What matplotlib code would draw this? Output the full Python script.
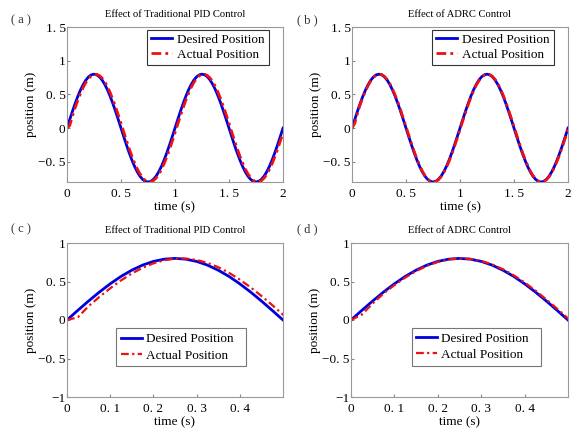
import matplotlib
matplotlib.use("Agg")
import matplotlib.pyplot as plt
import numpy as np

plt.rcParams['font.family'] = ['Liberation Serif', 'DejaVu Serif']

# time samples (s)
t = [0.000, 0.025, 0.050, 0.075, 0.100, 0.125, 0.150, 0.175, 0.200, 0.225,
     0.250, 0.275, 0.300, 0.325, 0.350, 0.375, 0.400, 0.425, 0.450, 0.475,
     0.500, 0.525, 0.550, 0.575, 0.600, 0.625, 0.650, 0.675, 0.700, 0.725,
     0.750, 0.775, 0.800, 0.825, 0.850, 0.875, 0.900, 0.925, 0.950, 0.975,
     1.000, 1.025, 1.050, 1.075, 1.100, 1.125, 1.150, 1.175, 1.200, 1.225,
     1.250, 1.275, 1.300, 1.325, 1.350, 1.375, 1.400, 1.425, 1.450, 1.475,
     1.500, 1.525, 1.550, 1.575, 1.600, 1.625, 1.650, 1.675, 1.700, 1.725,
     1.750, 1.775, 1.800, 1.825, 1.850, 1.875, 1.900, 1.925, 1.950, 1.975,
     2.000]

desired = [0.000, 0.125, 0.247, 0.363, 0.470, 0.566, 0.647, 0.713, 0.761, 0.790,
           0.800, 0.790, 0.761, 0.713, 0.647, 0.566, 0.470, 0.363, 0.247, 0.125,
           0.000, -0.125, -0.247, -0.363, -0.470, -0.566, -0.647, -0.713, -0.761, -0.790,
           -0.800, -0.790, -0.761, -0.713, -0.647, -0.566, -0.470, -0.363, -0.247, -0.125,
           0.000, 0.125, 0.247, 0.363, 0.470, 0.566, 0.647, 0.713, 0.761, 0.790,
           0.800, 0.790, 0.761, 0.713, 0.647, 0.566, 0.470, 0.363, 0.247, 0.125,
           0.000, -0.125, -0.247, -0.363, -0.470, -0.566, -0.647, -0.713, -0.761, -0.790,
           -0.800, -0.790, -0.761, -0.713, -0.647, -0.566, -0.470, -0.363, -0.247, -0.125,
           0.000]

actual_pid = [0.000, 0.035, 0.180, 0.300, 0.412, 0.514, 0.604, 0.678, 0.736, 0.776,
              0.797, 0.798, 0.780, 0.742, 0.686, 0.613, 0.525, 0.424, 0.313, 0.194,
              0.070, -0.056, -0.180, -0.300, -0.412, -0.514, -0.604, -0.678, -0.736, -0.776,
              -0.797, -0.798, -0.780, -0.742, -0.686, -0.613, -0.525, -0.424, -0.313, -0.194,
              -0.070, 0.056, 0.180, 0.300, 0.412, 0.514, 0.604, 0.678, 0.736, 0.776,
              0.797, 0.798, 0.780, 0.742, 0.686, 0.613, 0.525, 0.424, 0.313, 0.194,
              0.070, -0.056, -0.180, -0.300, -0.412, -0.514, -0.604, -0.678, -0.736, -0.776,
              -0.797, -0.798, -0.780, -0.742, -0.686, -0.613, -0.525, -0.424, -0.313, -0.194,
              -0.070]

actual_adrc = [0.000, 0.070, 0.215, 0.344, 0.453, 0.551, 0.635, 0.703, 0.754, 0.787,
               0.800, 0.793, 0.767, 0.722, 0.659, 0.580, 0.487, 0.382, 0.267, 0.146,
               0.021, -0.104, -0.227, -0.344, -0.453, -0.551, -0.635, -0.703, -0.754, -0.787,
               -0.800, -0.793, -0.767, -0.722, -0.659, -0.580, -0.487, -0.382, -0.267, -0.146,
               -0.021, 0.104, 0.227, 0.344, 0.453, 0.551, 0.635, 0.703, 0.754, 0.787,
               0.800, 0.793, 0.767, 0.722, 0.659, 0.580, 0.487, 0.382, 0.267, 0.146,
               0.021, -0.104, -0.227, -0.344, -0.453, -0.551, -0.635, -0.703, -0.754, -0.787,
               -0.800, -0.793, -0.767, -0.722, -0.659, -0.580, -0.487, -0.382, -0.267, -0.146,
               -0.021]

titles = ["Effect of Traditional PID Control", "Effect of ADRC Control",
          "Effect of Traditional PID Control", "Effect of ADRC Control"]
panel_labels = ["( a )", "( b )", "( c )", "( d )"]
legend_labels = ["Desired Position", "Actual Position"]

top_xticks = [0, 0.5, 1, 1.5, 2]
top_xticklabels = ["0", "0. 5", "1", "1. 5", "2"]
top_yticks = [-0.5, 0, 0.5, 1, 1.5]
top_yticklabels = ["−0. 5", "0", "0. 5", "1", "1. 5"]
bot_xticks = [0, 0.1, 0.2, 0.3, 0.4]
bot_xticklabels = ["0", "0. 1", "0. 2", "0. 3", "0. 4"]
bot_yticks = [-1, -0.5, 0, 0.5, 1]
bot_yticklabels = ["−1", "−0. 5", "0", "0. 5", "1"]

fig = plt.figure(figsize=(5.73, 4.32), dpi=100)
W, H = 573, 432

def px_axes(l, r, top, bot):
    return fig.add_axes([l / W, 1 - bot / H, (r - l) / W, (bot - top) / H])

axs = [px_axes(67, 283, 27, 182), px_axes(352, 568, 27, 182),
       px_axes(67, 283, 243, 397), px_axes(351, 568, 243, 397)]
actuals = [actual_pid, actual_adrc, actual_pid, actual_adrc]

tarr = np.array(t)
for i, ax in enumerate(axs):
    top = i < 2
    ax.plot(tarr, desired, color='#0000dd', lw=2.0, label=legend_labels[0])
    ax.plot(tarr, actuals[i], color='#ee1111', lw=2.0 if top else 1.6,
            linestyle=(0, (3.5, 1.5, 1, 1.5)), label=legend_labels[1])
    if top:
        ax.set_xlim(0, 2)
        ax.set_ylim(-0.8, 1.5)
        ax.set_xticks(top_xticks, top_xticklabels)
        ax.set_yticks(top_yticks, top_yticklabels)
        leg = ax.legend(loc='upper right', bbox_to_anchor=(0.935, 0.982), fontsize=9.5,
                        frameon=True, fancybox=False, edgecolor='black',
                        borderaxespad=0.0, handlelength=1.6,
                        borderpad=0.3, labelspacing=0.2, handletextpad=0.4)
    else:
        ax.set_xlim(0, 0.5)
        ax.set_ylim(-1, 1)
        ax.set_xticks(bot_xticks, bot_xticklabels)
        ax.set_yticks(bot_yticks, bot_yticklabels)
        box = (0.227, 0.195, 0.602, 0.25) if i == 2 else (0.28, 0.195, 0.596, 0.253)
        leg = ax.legend(loc='upper left', bbox_to_anchor=box, mode='expand', fontsize=9.5,
                        frameon=True, fancybox=False, edgecolor='#555555',
                        borderaxespad=0.0, handlelength=1.6, borderpad=0.35,
                        labelspacing=0.3, handletextpad=0.3)
    leg.get_frame().set_linewidth(0.8)
    ax.tick_params(direction='in', length=2, labelsize=9.5, color='#888888')
    ax.tick_params(axis='y', pad=1)
    ax.tick_params(axis='x', pad=4.5)
    for s in ax.spines.values():
        s.set_color('#999999')
        s.set_linewidth(0.8)
    ax.set_xlabel("time (s)", fontsize=9.5, labelpad=0.5)
    ax.set_ylabel("position (m)", fontsize=9.5, labelpad=1)
    ax.set_title(titles[i], fontsize=7.6, pad=7)
    # panel label
    lx = 11 / W if i % 2 == 0 else 297 / W
    ly = 1 - (20 / H if top else 229 / H)
    fig.text(lx, ly, panel_labels[i], fontsize=9, va='center', ha='left', color='#333333')

fig.savefig("out.png", dpi=100)
